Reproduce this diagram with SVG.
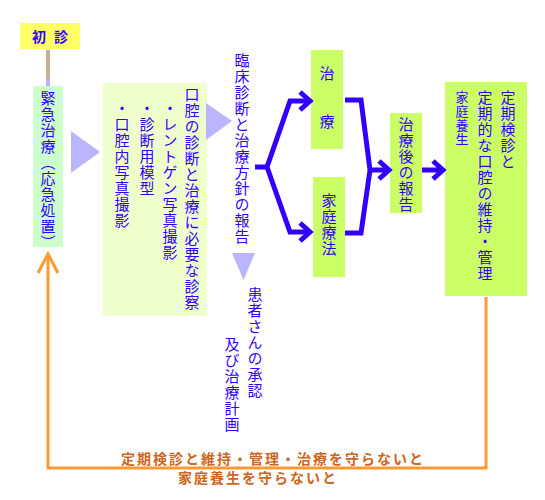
<svg xmlns="http://www.w3.org/2000/svg" width="545" height="500" viewBox="0 0 545 500">
<style>
.v{writing-mode:vertical-rl;font-family:"Noto Sans CJK JP","Noto Sans CJK SC",sans-serif;font-size:15px;fill:#3300ff;letter-spacing:1px}
.blue{fill:none;stroke:#3300ff;stroke-width:5;stroke-linejoin:miter}
.tri{fill:#bbb4ff}
.org{fill:#cc6622;font-family:"Noto Sans CJK JP",sans-serif;font-size:14px;font-weight:bold;letter-spacing:2px;text-anchor:middle}
</style>
<rect width="545" height="500" fill="#ffffff"/>
<g id="shoshin">
<rect x="20" y="23" width="60" height="26" fill="#ffff66"/>
<text x="32" y="42" font-family="Noto Sans CJK JP,sans-serif" font-size="14" font-weight="bold" fill="#3300ff">初</text>
<text x="54" y="42" font-family="Noto Sans CJK JP,sans-serif" font-size="14" font-weight="bold" fill="#3300ff">診</text>
</g>
<g id="kinkyu">
<rect x="33" y="86" width="30" height="161" fill="#ccffcc"/>
<text class="v" x="48" y="91">緊急治療（応急処置）</text>
</g>
<g id="shinsatsu">
<rect x="103" y="83" width="104" height="233" fill="#eeffcc"/>
<text class="v" x="192" y="87">口腔の診断と治療に必要な診察</text>
<text class="v" x="170" y="101">・レントゲン写真撮影</text>
<text class="v" x="147" y="101">・診断用模型</text>
<text class="v" x="122" y="101">・口腔内写真撮影</text>
</g>
<g id="houkoku">
<text class="v" x="242" y="53">臨床診断と治療方針の報告</text>
</g>
<g id="shounin">
<text class="v" x="255" y="287">患者さんの承認</text>
<text class="v" x="232" y="337">及び治療計画</text>
</g>
<g id="chiryo">
<rect x="311" y="50" width="32" height="99" fill="#ccff66"/>
<text class="v" x="327" y="66">治</text>
<text class="v" x="327" y="114">療</text>
</g>
<g id="kateiryoho">
<rect x="313" y="177" width="32" height="100" fill="#ccff66"/>
<text class="v" x="329" y="193">家庭療法</text>
</g>
<g id="chiryogo">
<rect x="390" y="113" width="32" height="100" fill="#ccff66"/>
<text class="v" x="406" y="117">治療後の報告</text>
</g>
<g id="teiki">
<rect x="445" y="82" width="82" height="214" fill="#ccff66"/>
<text class="v" x="508" y="90">定期検診と</text>
<text class="v" x="485" y="90">定期的な口腔の維持・管理</text>
<text class="v" x="462" y="91" style="font-size:13px">家庭養生</text>
</g>
<g id="connectors">
<rect x="46" y="50" width="4" height="29" fill="#c4b08c"/>
<rect x="46" y="79" width="4" height="7" fill="#bbb4ff"/>
<polygon class="tri" points="71,131 100,152 71,173"/>
<polygon class="tri" points="206,103 232,121 206,140"/>
<polygon class="tri" points="232,253 255,253 243.5,280"/>
<path class="blue" d="M255,167 H267 L290,101 H309 M267,167 L290,232 H309"/>
<path class="blue" d="M300,92 L310,101 L300,110 M300,223 L310,232 L300,241"/>
<path class="blue" d="M345,100 H361 L370,170 L361,233 H345 M370,170 H388"/>
<path class="blue" d="M379,161 L389,170 L379,179"/>
<path class="blue" d="M422,170 H442 M433,161 L443,170 L433,179"/>
<path d="M486,297 V468 H48 V255" fill="none" stroke="#ff9933" stroke-width="3"/>
<path d="M38,273 L48,254 L58,273" fill="none" stroke="#ff9933" stroke-width="3"/>
</g>
<text class="org" x="273" y="464">定期検診と維持・管理・治療を守らないと</text>
<text class="org" x="258" y="483">家庭養生を守らないと</text>
</svg>
